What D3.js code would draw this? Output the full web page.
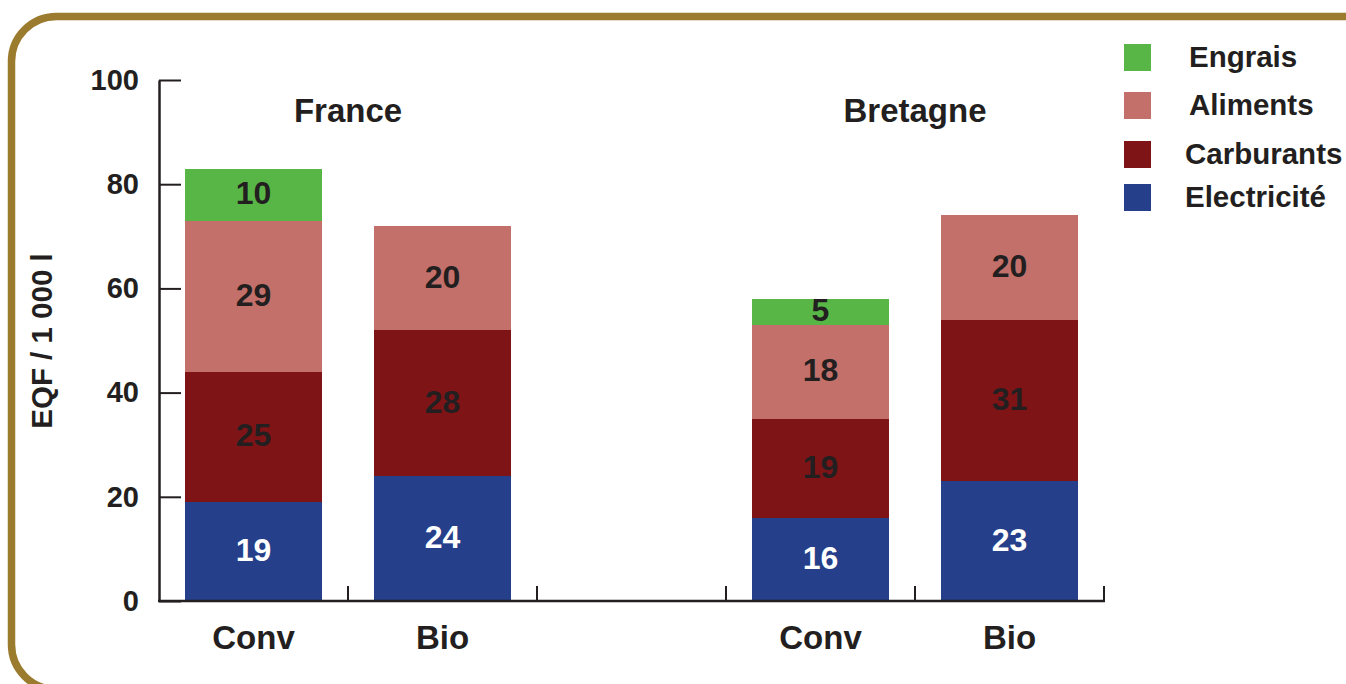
<!DOCTYPE html>
<html><head><meta charset="utf-8">
<script src="https://cdn.jsdelivr.net/npm/d3@7"></script>
<style>body{margin:0;background:#fff;}svg{display:block;}</style>
</head><body>
<svg id="c" width="1346" height="684"></svg>
<script>
const categories = ["France|Conv","France|Bio","gap","Bretagne|Conv","Bretagne|Bio"];
const catLabels = ["Conv","Bio","","Conv","Bio"];
const groups = ["France","Bretagne"];
const seriesNames = ["Electricité","Carburants","Aliments","Engrais"];
const electricite = [19,24,null,16,23];
const carburants  = [25,28,null,19,31];
const aliments    = [29,20,null,18,20];
const engrais     = [10,0,null,5,0];
const yTicks = [0,20,40,60,80,100];
const colors = {"Electricité":"#253f8b","Carburants":"#7f1416","Aliments":"#c4706a","Engrais":"#58b647"};
const labelColors = {"Electricité":"#ffffff","Carburants":"#231f20","Aliments":"#231f20","Engrais":"#231f20"};

const FONT = "'Liberation Sans', Arial, Helvetica, sans-serif";
const ink = "#231f20";
const svg = d3.select("#c");

// frame
svg.append("rect").attr("x",11.5).attr("y",16.5).attr("width",1420).attr("height",673)
  .attr("rx",45).attr("ry",45).attr("fill","none").attr("stroke","#9b7b2e").attr("stroke-width",7.5);

const x = d3.scaleBand().domain(categories).range([159,1104]).paddingInner(0.28).paddingOuter(0.14);
const y = d3.scaleLinear().domain([0,100]).range([601,80]);

const rows = categories.map((c,i)=>({cat:c,"Electricité":electricite[i],"Carburants":carburants[i],"Aliments":aliments[i],"Engrais":engrais[i]}))
  .filter(r=>r["Electricité"]!==null);
const stack = d3.stack().keys(seriesNames)(rows);

const g = svg.append("g");
stack.forEach(layer=>{
  const key = layer.key;
  layer.forEach(d=>{
    const v = d[1]-d[0];
    if(v<=0) return;
    g.append("rect").attr("x",x(d.data.cat)).attr("width",x.bandwidth())
      .attr("y",y(d[1])).attr("height",y(d[0])-y(d[1])).attr("fill",colors[key])
      .attr("shape-rendering","crispEdges");
    g.append("text").attr("x",x(d.data.cat)+x.bandwidth()/2).attr("y",(y(d[0])+y(d[1]))/2-2)
      .attr("dy","0.36em").attr("text-anchor","middle").attr("font-family",FONT)
      .attr("font-weight","bold").attr("font-size",32).attr("fill",labelColors[key]).text(v);
  });
});

// y axis
const ya = svg.append("g").attr("transform","translate(159,0)")
  .call(d3.axisLeft(y).tickValues(yTicks).tickSizeInner(-22).tickSizeOuter(0).tickPadding(20));
ya.select(".domain").attr("stroke",ink).attr("stroke-width",2.5);
ya.selectAll(".tick line").attr("stroke",ink).attr("stroke-width",2);
ya.selectAll(".tick text").attr("font-family",FONT).attr("font-weight","bold").attr("font-size",29).attr("fill",ink);

// x axis line and boundary ticks
const xa = svg.append("g");
xa.append("line").attr("x1",x.range()[0]-1).attr("x2",x.range()[1]+1).attr("y1",y(0)).attr("y2",y(0))
  .attr("stroke",ink).attr("stroke-width",2.5);
categories.forEach((c,i)=>{
  const bx = x.range()[0] + x.step()*(i+1);
  xa.append("line").attr("x1",bx).attr("x2",bx).attr("y1",y(0)).attr("y2",y(0)-15).attr("stroke",ink).attr("stroke-width",2);
  if(catLabels[i]) xa.append("text").attr("x",x(c)+x.bandwidth()/2).attr("y",649).attr("text-anchor","middle")
    .attr("font-family",FONT).attr("font-weight","bold").attr("font-size",33).attr("fill",ink).text(catLabels[i]);
});

// group titles
groups.forEach(gr=>{
  const cx = (x(gr+"|Conv")+x(gr+"|Bio")+x.bandwidth())/2;
  svg.append("text").attr("x",cx).attr("y",122).attr("text-anchor","middle")
    .attr("font-family",FONT).attr("font-weight","bold").attr("font-size",33).attr("fill",ink).text(gr);
});

// y title
svg.append("text").attr("transform","translate(52,341) rotate(-90)").attr("text-anchor","middle")
  .attr("font-family",FONT).attr("font-weight","bold").attr("font-size",29.5).attr("fill",ink).text("EQF / 1 000 l");

// legend
const legendOrder = ["Engrais","Aliments","Carburants","Electricité"];
const legY = [44,92,141,184];
const legTx = [1189,1189,1185,1185];
legendOrder.forEach((k,i)=>{
  svg.append("rect").attr("x",1124).attr("y",legY[i]).attr("width",27).attr("height",27).attr("fill",colors[k]);
  svg.append("text").attr("x",legTx[i]).attr("y",legY[i]+23).attr("font-family",FONT).attr("font-weight","bold")
    .attr("font-size",29.5).attr("fill",ink).text(k);
});
</script>
</body></html>
